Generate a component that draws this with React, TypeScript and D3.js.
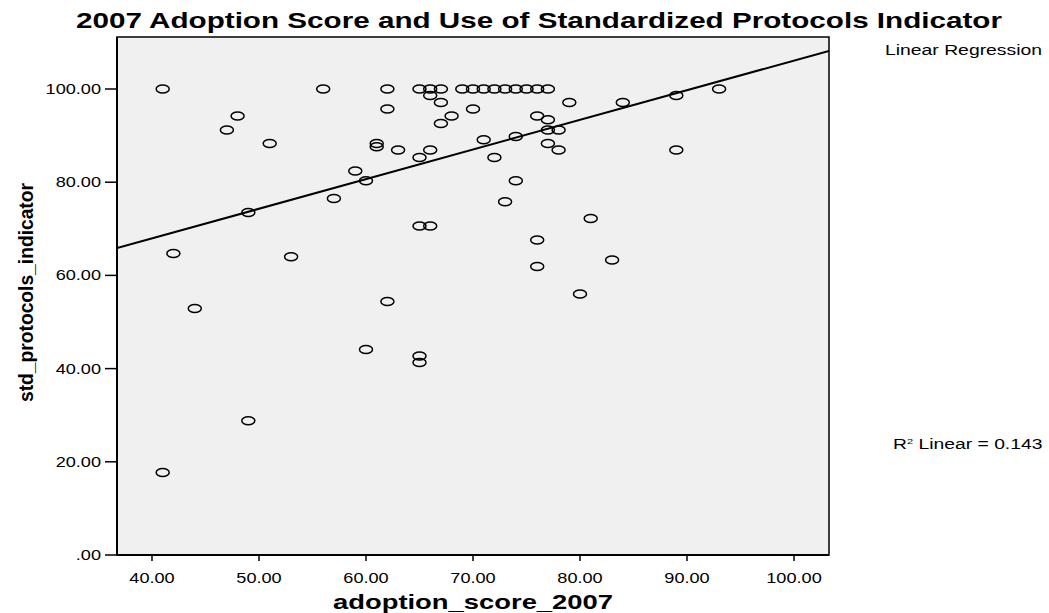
import React from "react";
import * as d3 from "d3";

const adoptionScore: number[] = [
  41, 56, 48, 47, 51, 59, 57, 49, 42,
  62, 65, 66, 67, 66, 67,
  69, 70, 71, 72, 73, 74, 75, 76, 77,
  62, 70, 79, 68, 67, 76, 77, 77, 78, 71, 74,
  61, 61, 63, 66, 65, 72, 77, 78, 60, 74, 73,
  65, 66, 76, 81, 84, 89, 93, 89,
  53, 44, 49, 41, 76, 83, 80, 62, 60, 65, 65,
];
const stdProtocols: number[] = [
  100, 100, 94.2, 91.2, 88.3, 82.4, 76.5, 73.5, 64.7,
  100, 100, 100, 100, 98.6, 97.1,
  100, 100, 100, 100, 100, 100, 100, 100, 100,
  95.7, 95.7, 97.1, 94.2, 92.6, 94.2, 93.4, 91.2, 91.2, 89.1, 89.8,
  88.3, 87.6, 86.9, 86.9, 85.3, 85.3, 88.3, 86.9, 80.3, 80.3, 75.8,
  70.6, 70.6, 67.6, 72.2, 97.1, 98.6, 100, 86.9,
  64.0, 52.9, 28.8, 17.7, 61.9, 63.3, 56.0, 54.4, 44.1, 42.7, 41.3,
];
const xTicks: number[] = [40, 50, 60, 70, 80, 90, 100];
const yTicks: number[] = [0, 20, 40, 60, 80, 100];
const fitIntercept = 42.5;
const fitSlope = 0.636;

const titleText = "2007 Adoption Score and Use of Standardized Protocols Indicator";
const xLabel = "adoption_score_2007";
const yLabel = "std_protocols_indicator";
const legendTitle = "Linear Regression";

const FONT = "'Liberation Sans', Arial, sans-serif";
const SX = 1.25;

const fmt = (v: number) => (v === 0 ? ".00" : v.toFixed(2));

export default function App() {
  const W = 1049;
  const H = 613;
  const left = 117, right = 829, top = 37, bottom = 555;
  const x = d3.scaleLinear().domain([36.73, 103.27]).range([left, right]);
  const y = d3.scaleLinear().domain([0, (bottom - top) / 4.66]).range([bottom, top]);
  const xd = x.domain();
  const line = d3.line<number>().x((v) => x(v)).y((v) => y(fitIntercept + fitSlope * v));
  const pts = adoptionScore.map((a, i) => ({ a, s: stdProtocols[i] }));

  return (
    <svg width={W} height={H} style={{ position: "absolute", left: 0, top: 0 }} fontFamily={FONT}>
      <rect x={0} y={0} width={W} height={H} fill="#ffffff" />
      <text x={76} y={28} fontSize={21.5} fontWeight="bold" textLength={926} lengthAdjust="spacingAndGlyphs">
        {titleText}
      </text>
      <defs>
        <clipPath id="plotclip">
          <rect x={left} y={top} width={right - left} height={bottom - top} />
        </clipPath>
      </defs>
      <rect x={left} y={top} width={right - left} height={bottom - top} fill="#f0f0f0" stroke="#000" strokeWidth={1.5} />
      <g clipPath="url(#plotclip)">
        <path d={line(xd) || ""} fill="none" stroke="#000" strokeWidth={2} />
        {pts.map((p, i) => (
          <ellipse key={i} cx={x(p.a)} cy={y(p.s)} rx={6.5} ry={4} fill="none" stroke="#000" strokeWidth={1.5} />
        ))}
      </g>
      <line x1={left} x2={left} y1={top} y2={bottom} stroke="#000" strokeWidth={2} />
      <line x1={left} x2={right} y1={bottom} y2={bottom} stroke="#000" strokeWidth={2} />
      {xTicks.map((t) => (
        <g key={"x" + t}>
          <line x1={x(t)} x2={x(t)} y1={bottom} y2={bottom + 6} stroke="#000" strokeWidth={1.5} />
          <text transform={`translate(${x(t)},${bottom + 28}) scale(${SX},1)`} textAnchor="middle" fontSize={14.5}>
            {fmt(t)}
          </text>
        </g>
      ))}
      {yTicks.map((t) => (
        <g key={"y" + t}>
          <line x1={left - 12} x2={left} y1={y(t)} y2={y(t)} stroke="#000" strokeWidth={1.5} />
          <text transform={`translate(${left - 16},${y(t) + 5}) scale(${SX},1)`} textAnchor="end" fontSize={14.5}>
            {fmt(t)}
          </text>
        </g>
      ))}
      <text x={333} y={609} fontSize={21} fontWeight="bold" textLength={280} lengthAdjust="spacingAndGlyphs">
        {xLabel}
      </text>
      <text
        transform={`translate(33,${402}) rotate(-90)`}
        fontSize={21}
        fontWeight="bold"
        textLength={219}
        lengthAdjust="spacingAndGlyphs"
      >
        {yLabel}
      </text>
      <text x={885} y={55} fontSize={14} textLength={157} lengthAdjust="spacingAndGlyphs">
        {legendTitle}
      </text>
      <text transform="translate(893,449) scale(1.38,1)" fontSize={14}>
        <tspan>R</tspan>
        <tspan fontSize={8} dy={-5}>2</tspan>
        <tspan dy={5}> Linear = 0.143</tspan>
      </text>
    </svg>
  );
}
